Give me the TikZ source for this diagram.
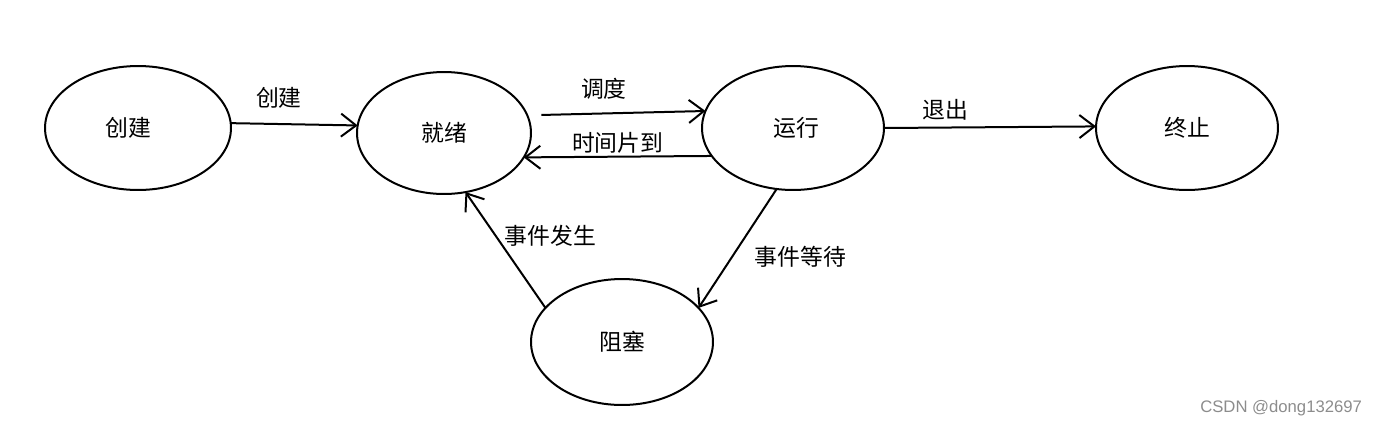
\documentclass[tikz,border=0pt]{standalone}
\usepackage{fontspec}
\setmainfont{Noto Sans CJK SC}
\newfontfamily\markfont{Liberation Sans}
\usetikzlibrary{shapes.geometric,arrows.meta}

\begin{document}
\begin{tikzpicture}[x=0.02cm,y=-0.02cm,inner sep=0pt,outer sep=0pt,line width=0.04cm,
state/.style={draw,ellipse,minimum width=3.64cm,minimum height=2.48cm,line width=0.04cm,font=\fontsize{13}{15}\selectfont},
trans/.style={-{Straight Barb[length=3mm,width=4.6mm,line width=0.04cm]}},
lbl/.style={font=\fontsize{13}{15}\selectfont}]

\useasboundingbox (0,0) rectangle (1377,427);

\draw (138,128) node[state,minimum width=3.72cm] (cj) {创建\kern11pt};
\draw (444,133) node[state,minimum width=3.48cm,minimum height=2.44cm] (jx) {就绪};
\draw (793,128) node[state] (yx) {\kern4pt运行};
\draw (1187,128) node[state] (zz) {终止};
\draw (622,342) node[state,minimum height=2.52cm] (zs) {阻塞};

\draw[trans] (cj.3) -- node[lbl,pos=.38,above=9pt] {创建} (jx.175);
\draw[trans,shorten <=8pt] (jx.12) -- node[lbl,pos=.43,above=8pt] {调度} (yx.169);
\draw[trans] (yx.199) -- node[lbl,pos=.5,above=2pt] {时间片到} (jx.343);
\draw[trans] (yx.0) -- node[lbl,pos=.29,above=4pt] {退出} (zz.179);
\draw[trans] (yx.255) -- node[lbl,pos=.57,right=13pt] {事件等待} (zs.24);
\draw[trans] (zs.156) -- node[lbl,pos=.62,right=5pt] {事件发生} (jx.290);

\draw (1362,408) node[anchor=east,text=black!45,font=\markfont\fontsize{9.5}{11}\selectfont] (mark) {CSDN @dong132697};

\end{tikzpicture}
\end{document}
